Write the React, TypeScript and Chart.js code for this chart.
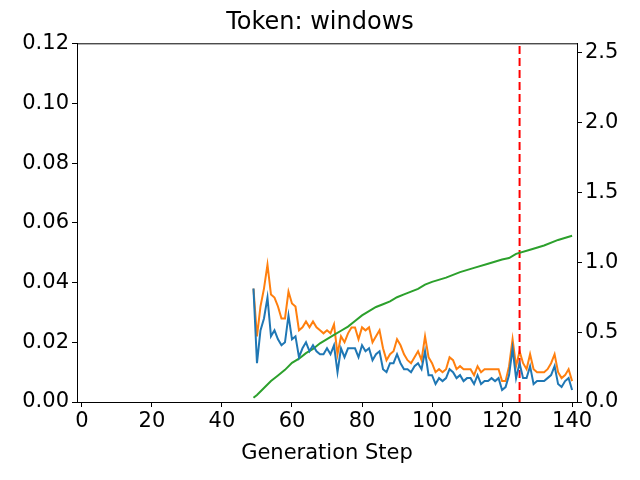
import { useEffect, useRef } from "react";
import { Chart, registerables } from "chart.js";

Chart.register(...registerables);

const steps = Array.from({ length: 92 }, (_, i) => 49 + i);
const blueValues = [
  0.038, 0.013, 0.024, 0.028, 0.035, 0.022, 0.024, 0.021, 0.019, 0.02, 0.029, 0.021, 0.022, 0.015, 0.018, 0.02,
  0.017, 0.019, 0.017, 0.016, 0.016, 0.018, 0.016, 0.019, 0.01, 0.018, 0.015, 0.018, 0.018, 0.018, 0.015, 0.019,
  0.017, 0.018, 0.014, 0.016, 0.017, 0.011, 0.01, 0.013, 0.013, 0.016, 0.013, 0.011, 0.011, 0.01, 0.012, 0.013,
  0.011, 0.017, 0.009, 0.009, 0.006, 0.008, 0.007, 0.008, 0.011, 0.01, 0.008, 0.009, 0.007, 0.008, 0.008, 0.006,
  0.009, 0.006, 0.007, 0.007, 0.008, 0.007, 0.008, 0.004, 0.005, 0.009, 0.018, 0.008, 0.013, 0.008, 0.008, 0.012,
  0.006, 0.007, 0.007, 0.007, 0.008, 0.009, 0.012, 0.006, 0.005, 0.007, 0.008, 0.004,
];
const orangeValues = [
  0.038, 0.022, 0.032, 0.038, 0.046, 0.036, 0.035, 0.032, 0.028, 0.028, 0.037, 0.033, 0.032, 0.024, 0.025, 0.027,
  0.025, 0.027, 0.025, 0.024, 0.023, 0.024, 0.023, 0.026, 0.016, 0.022, 0.02, 0.023, 0.025, 0.025, 0.021, 0.025,
  0.024, 0.025, 0.02, 0.022, 0.024, 0.018, 0.014, 0.016, 0.017, 0.021, 0.019, 0.016, 0.014, 0.013, 0.015, 0.017,
  0.014, 0.022, 0.015, 0.013, 0.01, 0.011, 0.01, 0.011, 0.015, 0.014, 0.011, 0.012, 0.011, 0.011, 0.011, 0.009,
  0.012, 0.01, 0.011, 0.011, 0.011, 0.011, 0.011, 0.007, 0.007, 0.012, 0.021, 0.012, 0.017, 0.013, 0.011, 0.016,
  0.011, 0.01, 0.01, 0.01, 0.011, 0.013, 0.016, 0.01, 0.008, 0.009, 0.011, 0.007,
];
const greenSteps = [49, 50, 52, 54, 56, 58, 60, 62, 64, 66, 68, 70, 72, 74, 76, 78, 80, 82, 84, 86, 88, 90, 92, 94, 96, 98, 100, 104, 108, 112, 116, 120, 122, 124, 128, 132, 136, 140];
const greenValues = [0.03, 0.05, 0.1, 0.15, 0.19, 0.23, 0.28, 0.31, 0.35, 0.38, 0.42, 0.45, 0.48, 0.51, 0.54, 0.58, 0.62, 0.65, 0.68, 0.7, 0.72, 0.75, 0.77, 0.79, 0.81, 0.84, 0.86, 0.89, 0.93, 0.96, 0.99, 1.02, 1.03, 1.06, 1.09, 1.12, 1.16, 1.19];
const markerStep = 125;
const xTicks = [0, 20, 40, 60, 80, 100, 120, 140];
const leftTicks = [0, 0.02, 0.04, 0.06, 0.08, 0.1, 0.12];
const rightTicks = [0, 0.5, 1, 1.5, 2, 2.5];

const font = { family: "DejaVu Sans", size: 21 };
const tickGrid = { display: true, drawOnChartArea: false, drawTicks: true, tickLength: 5, color: "#000" };

export default function App() {
  const canvasRef = useRef<HTMLCanvasElement>(null);

  useEffect(() => {
    document.body.style.margin = "0";
    const ctx = canvasRef.current?.getContext("2d");
    if (!ctx) return;
    const setTicks = (values: number[]) => (axis: any) => {
      axis.ticks = values.map((value) => ({ value }));
    };
    const chart = new Chart(ctx, {
      type: "line",
      data: {
        datasets: [
          {
            data: steps.map((s, i) => ({ x: s, y: blueValues[i] })),
            borderColor: "#1f77b4",
            borderWidth: 2,
            pointRadius: 0,
            yAxisID: "y",
          },
          {
            data: steps.map((s, i) => ({ x: s, y: orangeValues[i] })),
            borderColor: "#ff7f0e",
            borderWidth: 2,
            pointRadius: 0,
            yAxisID: "y",
            order: 1,
          },
          {
            data: greenSteps.map((s, i) => ({ x: s, y: greenValues[i] })),
            borderColor: "#2ca02c",
            borderWidth: 2,
            pointRadius: 0,
            yAxisID: "y2",
          },
          {
            data: [
              { x: markerStep, y: 0 },
              { x: markerStep, y: 0.12 },
            ],
            borderColor: "#ff0000",
            borderWidth: 2,
            borderDash: [8, 4],
            pointRadius: 0,
            yAxisID: "y",
          },
        ],
      },
      options: {
        animation: false,
        responsive: false,
        layout: { padding: 0 },
        plugins: {
          legend: { display: false },
          tooltip: { enabled: false },
          title: {
            display: true,
            text: "Token: windows",
            color: "#000",
            font: { family: "DejaVu Sans", size: 24, weight: "normal" },
            padding: { top: 8, bottom: 7 },
          },
        },
        scales: {
          x: {
            type: "linear",
            min: -1.4,
            max: 141.4,
            afterBuildTicks: setTicks(xTicks),
            afterFit: (a: any) => { a.height = 78; },
            grid: tickGrid,
            border: { color: "#000", width: 1 },
            ticks: { color: "#000", font, padding: 2, maxRotation: 0, autoSkip: false },
            title: { display: true, text: "Generation Step", color: "#000", font, padding: { top: 0, bottom: 14 } },
          },
          y: {
            position: "left",
            min: 0,
            max: 0.12,
            afterBuildTicks: setTicks(leftTicks),
            afterFit: (a: any) => { a.width = 77; },
            grid: tickGrid,
            border: { color: "#000", width: 1 },
            ticks: { color: "#000", font, autoSkip: false, callback: (v: any) => Number(v).toFixed(2) },
          },
          y2: {
            position: "right",
            min: 0,
            max: 2.564,
            afterBuildTicks: setTicks(rightTicks),
            afterFit: (a: any) => { a.width = 63; },
            grid: tickGrid,
            border: { color: "#000", width: 1 },
            ticks: { color: "#000", font, autoSkip: false, callback: (v: any) => Number(v).toFixed(1) },
          },
        },
      },
      plugins: [
        {
          id: "frame",
          afterDraw: (c: any) => {
            const { top, right, left } = c.chartArea;
            const g = c.ctx;
            g.save();
            g.strokeStyle = "#000";
            g.lineWidth = 1;
            g.beginPath();
            g.moveTo(left, top);
            g.lineTo(right, top);
            g.stroke();
            g.restore();
          },
        },
      ],
    });
    return () => chart.destroy();
  }, []);

  return <canvas ref={canvasRef} width={640} height={480} style={{ display: "block" }} />;
}
